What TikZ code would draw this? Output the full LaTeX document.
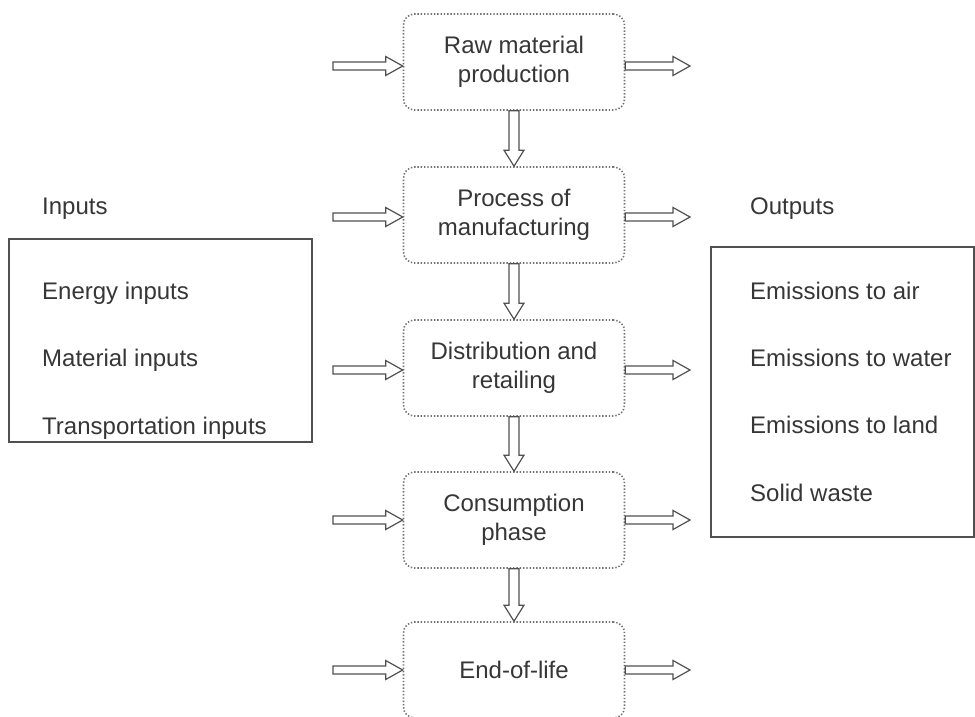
\documentclass[tikz,border=0pt]{standalone}
\usepackage{fontspec}
\setmainfont{Liberation Sans}
\usetikzlibrary{calc}

\definecolor{txtgray}{HTML}{363636}
\definecolor{linegray}{HTML}{505050}

\begin{document}
\begin{tikzpicture}[
  x=1bp, y=-1bp,
  font=\fontsize{24bp}{29bp}\selectfont,
  text=txtgray,
  stage/.style={
    draw=black!55,
    line width=1.6bp,
    dash pattern=on 1.4bp off 1.9bp,
    rounded corners=11bp,
    minimum width=221bp,
    minimum height=96bp,
    align=center
  },
  panel/.style={draw=linegray, line width=1.2bp},
  label/.style={anchor=west, inner sep=0pt},
  harrow/.style={
    draw=linegray, line width=1.2bp, line join=miter,
    to path={let \p1=(\tikztostart), \p2=(\tikztotarget) in
      (\x1,\y1+4bp) -- (\x2-17bp,\y1+4bp) -- (\x2-17bp,\y1+9.5bp) -- (\x2,\y1)
      -- (\x2-17bp,\y1-9.5bp) -- (\x2-17bp,\y1-4bp) -- (\x1,\y1-4bp) -- cycle}
  },
  varrow/.style={
    draw=linegray, line width=1.2bp, line join=miter,
    to path={let \p1=(\tikztostart), \p2=(\tikztotarget) in
      (\x1-5bp,\y1) -- (\x1-5bp,\y2+16bp) -- (\x1-10bp,\y2+16bp) -- (\x1,\y2)
      -- (\x1+10bp,\y2+16bp) -- (\x1+5bp,\y2+16bp) -- (\x1+5bp,\y1) -- cycle}
  }
]
  \useasboundingbox (0,0) rectangle (975,717);

  % life cycle stages
  \node[stage] (raw)     at (514,62)  {Raw material\\production};
  \node[stage] (manuf)   at (514,215) {Process of\\manufacturing};
  \node[stage] (distrib) at (514,368) {Distribution and\\retailing};
  \node[stage] (consum)  at (514,520) {Consumption\\phase};
  \node[stage] (eol)     at (514,670) {End-of-life};

  \draw[varrow] (raw.south)     to (manuf.north);
  \draw[varrow] (manuf.south)   to (distrib.north);
  \draw[varrow] (distrib.south) to (consum.north);
  \draw[varrow] (consum.south)  to (eol.north);

  % side arrows
  \coordinate (in1) at (333,66);  \coordinate (out1) at (690,66);
  \coordinate (in2) at (333,217); \coordinate (out2) at (690,217);
  \coordinate (in3) at (333,370); \coordinate (out3) at (690,370);
  \coordinate (in4) at (333,520); \coordinate (out4) at (690,520);
  \coordinate (in5) at (333,670); \coordinate (out5) at (690,670);
  \foreach \s [count=\i] in {raw,manuf,distrib,consum,eol} {
    \draw[harrow] (in\i) to (\s.west |- in\i);
    \draw[harrow] (\s.east |- out\i) to (out\i);
  }

  % inputs
  \node[label] (inputs) at (42,209) {Inputs};
  \draw[panel] (9,239) rectangle (312,442);
  \node[label] (energy)    at (42,293) {Energy inputs};
  \node[label] (material)  at (42,360) {Material inputs};
  \node[label] (transport) at (42,428) {Transportation inputs};

  % outputs
  \node[label] (outputs) at (750,209) {Outputs};
  \draw[panel] (711,247) rectangle (974,537);
  \node[label] (air)   at (750,291) {Emissions to air};
  \node[label] (water) at (750,358) {Emissions to water};
  \node[label] (land)  at (750,425) {Emissions to land};
  \node[label] (waste) at (750,493) {Solid waste};
\end{tikzpicture}
\end{document}
